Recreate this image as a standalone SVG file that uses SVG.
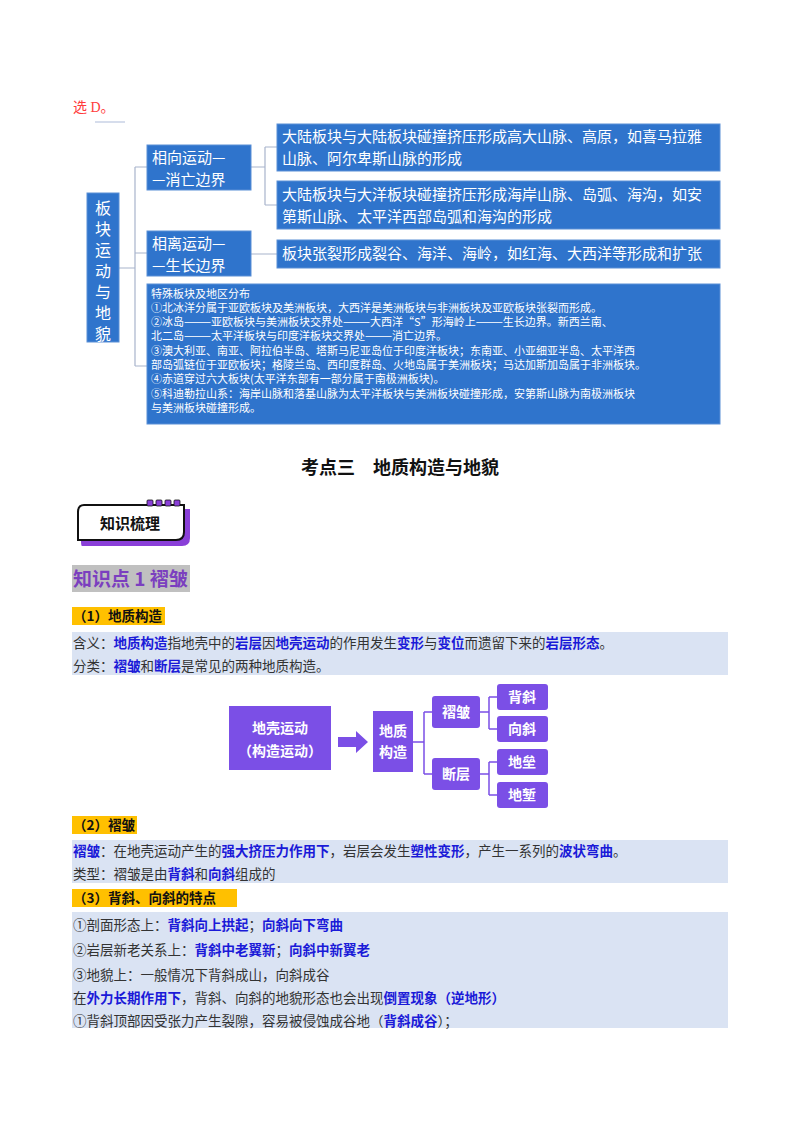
<svg xmlns="http://www.w3.org/2000/svg" width="800" height="1132" viewBox="0 0 800 1132">
<style>
text{font-family:"Noto Sans CJK SC","Liberation Sans",sans-serif}
.bb{fill:#2f74cc;stroke:#5b8fd6;stroke-width:1}
.wt{fill:#fff;font-size:15px}
.ws{fill:#fff;font-size:11px}
.cn{fill:none;stroke:#a8b4cc;stroke-width:1.2}
.pb{fill:#7b4fe6}
.pt{fill:#fff;font-size:14px;font-weight:bold;text-anchor:middle}
.pc{fill:none;stroke:#7b4fe6;stroke-width:1.5}
.t{font-size:13.5px;fill:#333;font-family:"Liberation Serif","Noto Sans CJK SC",serif}
.b{fill:#1a1ad8;font-weight:bold;font-family:"Noto Sans CJK SC",sans-serif}
.band{fill:#dae3f3}
.yl{fill:#ffc000}
.h{font-size:13.5px;font-weight:bold;fill:#111}
</style>
<rect width="800" height="1132" fill="#fff"/>
<text x="73" y="112" style="font-size:14px;fill:#ff3b3b;font-family:'Liberation Serif','Noto Sans CJK SC',serif">选 D。</text>
<line x1="95" y1="122" x2="125" y2="122" stroke="#c8d2e6" stroke-width="1.5"/>
<g id="connectors">
<path class="cn" d="M119 268H135M135 167V366M135 167H147M135 253H147M135 366H147"/>
<path class="cn" d="M251 167H265M265 147V205M265 147H277M265 205H277M251 254H277"/>
<path class="pc" d="M413 742H424M424 712V774M424 712H432M424 774H432"/>
<path class="pc" d="M480 712H489M489 697V729M489 697H497M489 729H497"/>
<path class="pc" d="M480 774H489M489 762V795M489 762H497M489 795H497"/>
</g>
<g id="n-root"><rect class="bb" x="87" y="193" width="32" height="149"/>
<text class="wt" text-anchor="middle" style="font-size:16px"><tspan x="103" y="214">板</tspan><tspan x="103" y="235">块</tspan><tspan x="103" y="256">运</tspan><tspan x="103" y="277">动</tspan><tspan x="103" y="298">与</tspan><tspan x="103" y="319">地</tspan><tspan x="103" y="340">貌</tspan></text></g>
<g id="n-xx"><rect class="bb" x="147" y="145" width="104" height="45"/><text class="wt" x="152" y="163">相向运动—</text><text class="wt" x="152" y="185">—消亡边界</text></g>
<g id="n-xl"><rect class="bb" x="147" y="231" width="104" height="45"/><text class="wt" x="152" y="249">相离运动—</text><text class="wt" x="152" y="271">—生长边界</text></g>
<g id="n-b1"><rect class="bb" x="277" y="124" width="443" height="47"/><text class="wt" x="282" y="142">大陆板块与大陆板块碰撞挤压形成高大山脉、高原，如喜马拉雅</text><text class="wt" x="282" y="164">山脉、阿尔卑斯山脉的形成</text></g>
<g id="n-b2"><rect class="bb" x="277" y="181" width="443" height="48"/><text class="wt" x="282" y="200">大陆板块与大洋板块碰撞挤压形成海岸山脉、岛弧、海沟，如安</text><text class="wt" x="282" y="222">第斯山脉、太平洋西部岛弧和海沟的形成</text></g>
<g id="n-b3"><rect class="bb" x="277" y="240" width="443" height="28"/><text class="wt" x="282" y="259">板块张裂形成裂谷、海洋、海岭，如红海、大西洋等形成和扩张</text></g>
<g id="n-b4"><rect class="bb" x="147" y="284" width="573" height="140"/>
<text class="ws"><tspan x="151" y="298">特殊板块及地区分布</tspan><tspan x="151" y="312">①北冰洋分属于亚欧板块及美洲板块，大西洋是美洲板块与非洲板块及亚欧板块张裂而形成。</tspan><tspan x="151" y="326">②冰岛———亚欧板块与美洲板块交界处———大西洋“S”形海岭上———生长边界。新西兰南、</tspan><tspan x="151" y="340">北二岛———太平洋板块与印度洋板块交界处———消亡边界。</tspan><tspan x="151" y="355">③澳大利亚、南亚、阿拉伯半岛、塔斯马尼亚岛位于印度洋板块；东南亚、小亚细亚半岛、太平洋西</tspan><tspan x="151" y="369">部岛弧链位于亚欧板块；格陵兰岛、西印度群岛、火地岛属于美洲板块；马达加斯加岛属于非洲板块。</tspan><tspan x="151" y="383">④赤道穿过六大板块(太平洋东部有一部分属于南极洲板块)。</tspan><tspan x="151" y="398">⑤科迪勒拉山系：海岸山脉和落基山脉为太平洋板块与美洲板块碰撞形成，安第斯山脉为南极洲板块</tspan><tspan x="151" y="412">与美洲板块碰撞形成。</tspan></text></g>
<text x="400" y="474" text-anchor="middle" style="font-size:18px;font-weight:bold;fill:#111">考点三　地质构造与地貌</text>
<g id="badge">
<path d="M86 509H190V538Q190 546 182 546H82Q81 546 81 540Z" fill="#8a3fd8"/>
<path d="M84 505H184V532Q184 540 176 540H78V512Q78 505 84 505Z" fill="#fff" stroke="#111" stroke-width="2"/>
<rect x="147" y="500" width="6" height="6" rx="1" fill="#8a3fd8" stroke="#111" stroke-width="0.8"/>
<rect x="156" y="500" width="6" height="6" rx="1" fill="#8a3fd8" stroke="#111" stroke-width="0.8"/>
<rect x="165" y="500" width="6" height="6" rx="1" fill="#8a3fd8" stroke="#111" stroke-width="0.8"/>
<rect x="174" y="500" width="6" height="6" rx="1" fill="#8a3fd8" stroke="#111" stroke-width="0.8"/>
<text x="130" y="529" text-anchor="middle" style="font-size:15px;font-weight:bold;fill:#111">知识梳理</text>
</g>
<rect x="72" y="565" width="118" height="27" fill="#c0c0c0"/>
<text x="73" y="586" style="font-size:19px;font-weight:bold;fill:#7b3fbf">知识点 1  褶皱</text>
<rect class="yl" x="72" y="607" width="93" height="18"/>
<text class="h" x="73" y="621">（1）地质构造</text>
<rect class="band" x="72" y="632" width="656" height="43"/>
<text class="t" x="73" y="648">含义：<tspan class="b">地质构造</tspan>指地壳中的<tspan class="b">岩层</tspan>因<tspan class="b">地壳运动</tspan>的作用发生<tspan class="b">变形</tspan>与<tspan class="b">变位</tspan>而遗留下来的<tspan class="b">岩层形态</tspan>。</text>
<text class="t" x="73" y="671">分类：<tspan class="b">褶皱</tspan>和<tspan class="b">断层</tspan>是常见的两种地质构造。</text>
<g id="f-dk"><rect class="pb" x="229" y="706" width="102" height="64"/><text class="pt" x="280" y="733">地壳运动</text><text class="pt" x="280" y="756">（构造运动）</text></g>
<path d="M338 737H356V731L368 742L356 753V747H338Z" fill="#7b4fe6"/>
<g id="f-dz"><rect class="pb" x="373" y="711" width="40" height="61"/><text class="pt" x="393" y="736">地质</text><text class="pt" x="393" y="757">构造</text></g>
<g id="f-zz"><rect class="pb" x="432" y="696" width="48" height="32" rx="3"/><text class="pt" x="456" y="717">褶皱</text></g>
<g id="f-dc"><rect class="pb" x="432" y="758" width="48" height="32" rx="3"/><text class="pt" x="456" y="779">断层</text></g>
<g id="f-bx"><rect class="pb" x="497" y="684" width="51" height="26" rx="3"/><text class="pt" x="522" y="702">背斜</text></g>
<g id="f-xx"><rect class="pb" x="497" y="716" width="51" height="26" rx="3"/><text class="pt" x="522" y="734">向斜</text></g>
<g id="f-dl"><rect class="pb" x="497" y="749" width="51" height="26" rx="3"/><text class="pt" x="522" y="767">地垒</text></g>
<g id="f-dq"><rect class="pb" x="497" y="782" width="51" height="26" rx="3"/><text class="pt" x="522" y="800">地堑</text></g>
<rect class="yl" x="72" y="816" width="65" height="18"/>
<text class="h" x="73" y="830">（2）褶皱</text>
<rect class="band" x="72" y="840" width="656" height="43"/>
<text class="t" x="73" y="856"><tspan class="b">褶皱</tspan>：在地壳运动产生的<tspan class="b">强大挤压力作用下</tspan>，岩层会发生<tspan class="b">塑性变形</tspan>，产生一系列的<tspan class="b">波状弯曲</tspan>。</text>
<text class="t" x="73" y="879">类型：褶皱是由<tspan class="b">背斜</tspan>和<tspan class="b">向斜</tspan>组成的</text>
<rect class="yl" x="72" y="889" width="165" height="18"/>
<text class="h" x="73" y="903">（3）背斜、向斜的特点</text>
<rect class="band" x="72" y="912" width="656" height="116"/>
<text class="t" x="73" y="930">①剖面形态上：<tspan class="b">背斜向上拱起</tspan>；<tspan class="b">向斜向下弯曲</tspan></text>
<text class="t" x="73" y="955">②岩层新老关系上：<tspan class="b">背斜中老翼新</tspan>；<tspan class="b">向斜中新翼老</tspan></text>
<text class="t" x="73" y="980">③地貌上：一般情况下背斜成山，向斜成谷</text>
<text class="t" x="73" y="1003">在<tspan class="b">外力长期作用下</tspan>，背斜、向斜的地貌形态也会出现<tspan class="b">倒置现象（逆地形）</tspan></text>
<text class="t" x="73" y="1026">①背斜顶部因受张力产生裂隙，容易被侵蚀成谷地（<tspan class="b">背斜成谷</tspan>）；</text>
</svg>
